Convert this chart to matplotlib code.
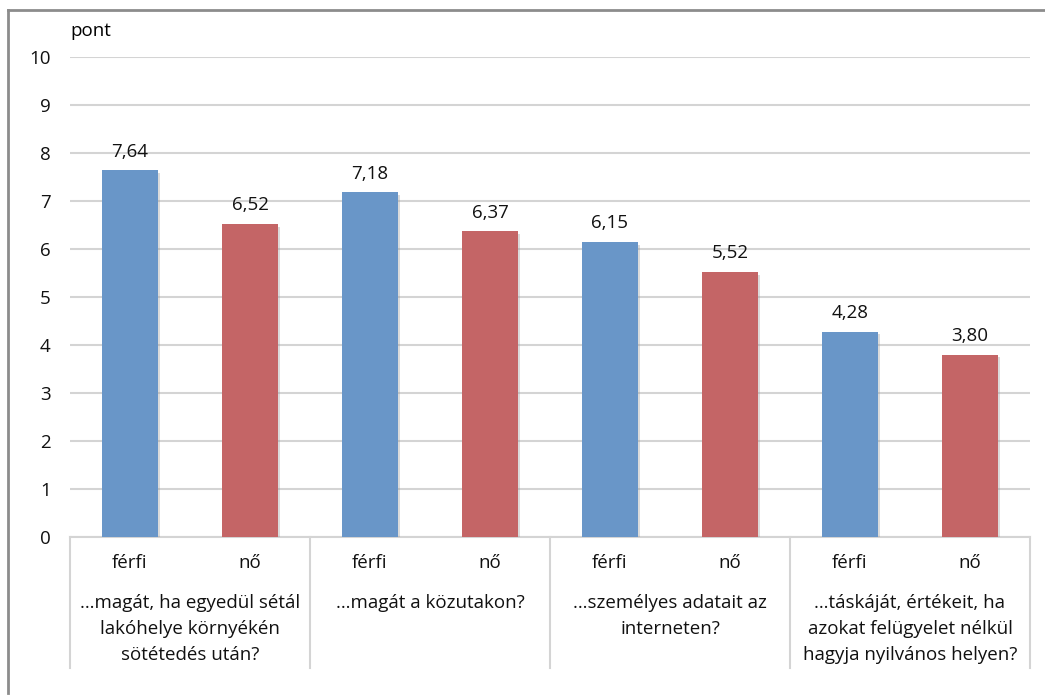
import matplotlib.pyplot as plt
import matplotlib.transforms as mtransforms
from matplotlib.lines import Line2D
import matplotlib.patheffects as pe

plt.rcParams["font.family"] = ["Open Sans", "DejaVu Sans"]

groups = [
    "…magát, ha egyedül sétál\nlakóhelye környékén\nsötétedés után?",
    "…magát a közutakon?",
    "…személyes adatait az\ninterneten?",
    "…táskáját, értékeit, ha\nazokat felügyelet nélkül\nhagyja nyilvános helyen?",
]
sexes = ["férfi", "nő"]
ferfi = [7.64, 7.18, 6.15, 4.28]
no = [6.52, 6.37, 5.52, 3.80]

BLUE = "#6996C8"
RED = "#C46566"
GRID = "#D4D4D4"
FS = 13.5

fig = plt.figure(figsize=(10.45, 6.95), dpi=100)
ax = fig.add_axes([70 / 1045, 1 - 537 / 695, 960 / 1045, 480 / 695])

shadow = [pe.SimplePatchShadow(offset=(2, -2), shadow_rgbFace="#999999", alpha=0.35), pe.Normal()]

for g in range(len(groups)):
    for s, (vals, col) in enumerate([(ferfi, BLUE), (no, RED)]):
        x = g * 2 + s
        b = ax.bar(x, vals[g], width=0.46, color=col, zorder=3)
        for p in b:
            p.set_path_effects(shadow)
        ax.annotate(f"{vals[g]:.2f}".replace(".", ","), (x, vals[g]),
                    xytext=(0, 7), textcoords="offset points",
                    ha="center", va="bottom", fontsize=FS, color="#111111")

ax.set_xlim(-0.5, 7.5)
ax.set_ylim(0, 10)
ax.set_yticks(range(0, 11))
ax.tick_params(axis="y", length=0, labelsize=FS, pad=14, colors="#111111")
ax.set_xticks([])
for sp in ["top", "right", "left"]:
    ax.spines[sp].set_visible(False)
ax.spines["bottom"].set_color(GRID)
ax.spines["bottom"].set_linewidth(1.5)
ax.grid(axis="y", color=GRID, linewidth=1.5, zorder=0)
ax.set_axisbelow(True)

ax.text(0, 1.035, "pont", transform=ax.transAxes, ha="left", va="bottom", fontsize=FS)

trans = mtransforms.blended_transform_factory(ax.transData, ax.transAxes)
for i in range(len(groups) + 1):
    xs = i * 2 - 0.5
    ax.add_line(Line2D([xs, xs], [0, -0.273], transform=trans, color=GRID,
                       linewidth=1.5, clip_on=False))
for g, label in enumerate(groups):
    for s, name in enumerate(sexes):
        ax.text(g * 2 + s, -0.055, name, transform=trans, ha="center", va="center",
                fontsize=FS, color="#111111")
    ax.text(g * 2 + 0.5, -0.119, label, transform=trans, ha="center", va="top",
            fontsize=FS, color="#111111", linespacing=1.55)

# outer frame (top and left edges visible)
fig.add_artist(Line2D([8 / 1045, 1], [1 - 10 / 695, 1 - 10 / 695], color="#8C8C8C", linewidth=2))
fig.add_artist(Line2D([8 / 1045, 8 / 1045], [1 - 10 / 695, 1 - 693 / 695], color="#8C8C8C", linewidth=2))

fig.savefig("out.png", dpi=100, facecolor="white")
